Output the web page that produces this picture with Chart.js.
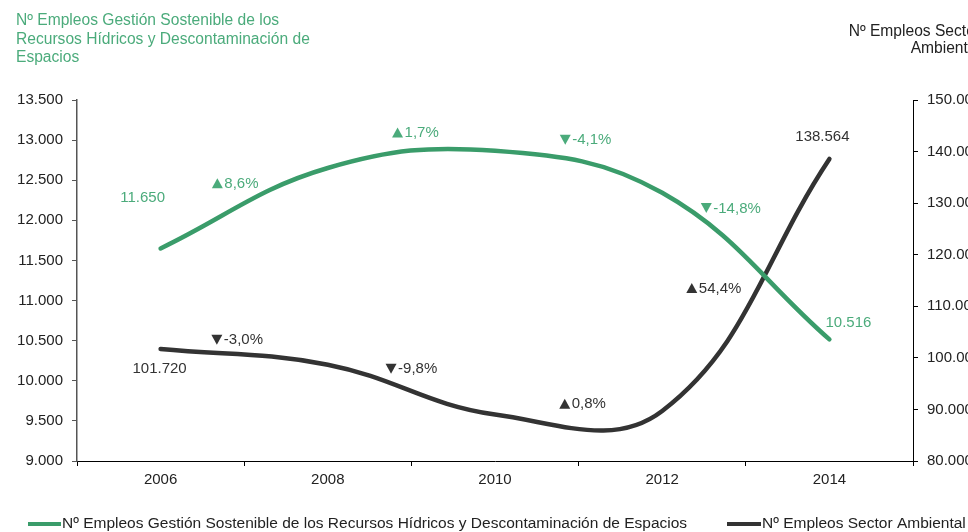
<!DOCTYPE html>
<html>
<head>
<meta charset="utf-8">
<script src="https://cdn.jsdelivr.net/npm/chart.js@4.4.1/dist/chart.umd.min.js"></script>
<style>
html,body{margin:0;padding:0;background:#fff;}
#wrap{width:968px;height:532px;overflow:hidden;}
</style>
</head>
<body>
<div id="wrap"><canvas id="c" width="968" height="532"></canvas></div>
<script>
const years = ['2006', '2008', '2010', '2012', '2014'];
const empleosGestion = [11650, 12652, 12867, 12343, 10516];
const empleosSector = [101720, 98670, 89000, 89712, 138564];
const cambiosGestion = ['▲8,6%', '▲1,7%', '▼-4,1%', '▼-14,8%'];
const cambiosSector = ['▼-3,0%', '▼-9,8%', '▲0,8%', '▲54,4%'];
const leftTitle = ['Nº Empleos Gestión Sostenible de los', 'Recursos Hídricos y Descontaminación de', 'Espacios'];
const rightTitle = ['Nº Empleos Sector', 'Ambiental'];
const serieGestion = 'Nº Empleos Gestión Sostenible de los Recursos Hídricos y Descontaminación de Espacios';
const serieSector = 'Nº Empleos Sector Ambiental';

const GREEN = '#3a9c6a';
const GREEN_TXT = '#4bab7b';
const DARK = '#333333';
const TXT = '#222222';
const FONT = '"Liberation Sans", Arial, sans-serif';

function fmt(n){ return Math.round(n).toString().replace(/\B(?=(\d{3})+(?!\d))/g, '.'); }

// label offsets (style, px)
const gOff = [[-9,-25],[4,-27],[7,-32],[-15,-58]];
const sOff = [[-7,-17],[0,-21],[4,-9],[-32,3]];

function drawChange(ctx, label, cx, cy, color){
  const up = label[0] === '▲';
  const txt = label.slice(1);
  const tw = 11, th = 10, gap = 1.5;
  const w = ctx.measureText(txt).width;
  const total = tw + gap + w;
  const x0 = cx - total / 2;
  ctx.fillStyle = color;
  ctx.beginPath();
  if (up) {
    ctx.moveTo(x0, cy + th / 2); ctx.lineTo(x0 + tw, cy + th / 2); ctx.lineTo(x0 + tw / 2, cy - th / 2);
  } else {
    ctx.moveTo(x0, cy - th / 2); ctx.lineTo(x0 + tw, cy - th / 2); ctx.lineTo(x0 + tw / 2, cy + th / 2);
  }
  ctx.closePath();
  ctx.fill();
  ctx.textAlign = 'left';
  ctx.fillText(txt, x0 + tw + gap, cy + 0.5);
}

const labelsPlugin = {
  id: 'labelsPlugin',
  afterDatasetsDraw(chart){
    const ctx = chart.ctx;
    const x = chart.scales.x, yl = chart.scales.y, yr = chart.scales.y1;
    ctx.save();
    ctx.font = '15px ' + FONT;
    ctx.textBaseline = 'middle';
    for (let i = 0; i < 4; i++) {
      const mx = (x.getPixelForValue(i) + x.getPixelForValue(i+1)) / 2;
      const gy = (yl.getPixelForValue(empleosGestion[i]) + yl.getPixelForValue(empleosGestion[i+1])) / 2;
      drawChange(ctx, cambiosGestion[i], mx + gOff[i][0], gy + gOff[i][1], GREEN_TXT);
      const sy = (yr.getPixelForValue(empleosSector[i]) + yr.getPixelForValue(empleosSector[i+1])) / 2;
      drawChange(ctx, cambiosSector[i], mx + sOff[i][0], sy + sOff[i][1], DARK);
    }
    const last = years.length - 1;
    ctx.textAlign = 'center';
    ctx.fillStyle = GREEN_TXT;
    ctx.fillText(fmt(empleosGestion[0]), x.getPixelForValue(0) - 18, yl.getPixelForValue(empleosGestion[0]) - 51);
    ctx.fillText(fmt(empleosGestion[last]), x.getPixelForValue(last) + 19, yl.getPixelForValue(empleosGestion[last]) - 17);
    ctx.fillStyle = DARK;
    ctx.fillText(fmt(empleosSector[0]), x.getPixelForValue(0) - 1, yr.getPixelForValue(empleosSector[0]) + 20);
    ctx.fillText(fmt(empleosSector[last]), x.getPixelForValue(last) - 7, yr.getPixelForValue(empleosSector[last]) - 22);
    ctx.restore();
  },
  afterDraw(chart){
    const ctx = chart.ctx;
    ctx.save();
    ctx.font = '15.6px ' + FONT;
    ctx.textBaseline = 'middle';
    ctx.textAlign = 'left';
    ctx.fillStyle = GREEN_TXT;
    leftTitle.forEach((t, i) => ctx.fillText(t, 16, 21 + i * 18.5));
    ctx.fillStyle = TXT;
    ctx.textAlign = 'right';
    rightTitle.forEach((t, i) => ctx.fillText(t, 980, 32 + i * 17));
    // legend
    ctx.font = '15.5px ' + FONT;
    ctx.textAlign = 'left';
    const ly = 524;
    ctx.lineWidth = 4;
    ctx.lineCap = 'butt';
    ctx.strokeStyle = GREEN;
    ctx.beginPath(); ctx.moveTo(28, ly); ctx.lineTo(61, ly); ctx.stroke();
    ctx.fillStyle = TXT;
    ctx.fillText(serieGestion, 62, ly);
    ctx.strokeStyle = DARK;
    ctx.beginPath(); ctx.moveTo(727, ly); ctx.lineTo(761, ly); ctx.stroke();
    ctx.fillText(serieSector, 762, ly);
    ctx.restore();
  }
};

new Chart(document.getElementById('c'), {
  type: 'line',
  data: {
    labels: years,
    datasets: [
      { label: serieGestion, data: empleosGestion, yAxisID: 'y', borderColor: GREEN, backgroundColor: GREEN,
        borderWidth: 4.5, pointRadius: 0, tension: 0.4, fill: false, borderCapStyle: 'round' },
      { label: serieSector, data: empleosSector, yAxisID: 'y1', borderColor: DARK, backgroundColor: DARK,
        borderWidth: 4.5, pointRadius: 0, tension: 0.4, fill: false, borderCapStyle: 'round' }
    ]
  },
  options: {
    responsive: false,
    animation: false,
    devicePixelRatio: 1,
    layout: { padding: { top: 100, bottom: 46, left: 0, right: 0 } },
    plugins: { legend: { display: false }, tooltip: { enabled: false }, title: { display: false } },
    scales: {
      x: {
        offset: true,
        grid: { offset: true, drawOnChartArea: false, drawTicks: true, tickLength: 5, color: '#000' },
        border: { color: '#000', width: 1 },
        ticks: { color: TXT, font: { family: FONT, size: 15 }, padding: 5 },
        afterFit(s){ s.height = 25; }
      },
      y: {
        position: 'left', min: 9000, max: 13500,
        grid: { drawOnChartArea: false, tickLength: 5, color: '#555' },
        border: { color: '#555', width: 1.5 },
        ticks: { stepSize: 500, color: TXT, font: { family: FONT, size: 15 }, padding: 9, callback: v => fmt(v) },
        afterFit(s){ s.width = 77; }
      },
      y1: {
        position: 'right', min: 80000, max: 150000,
        grid: { drawOnChartArea: false, tickLength: 5, color: '#000' },
        border: { color: '#000', width: 1 },
        ticks: { stepSize: 10000, color: TXT, font: { family: FONT, size: 15 }, padding: 9, callback: v => fmt(v) },
        afterFit(s){ s.width = 55; }
      }
    }
  },
  plugins: [labelsPlugin]
});
</script>
</body>
</html>
